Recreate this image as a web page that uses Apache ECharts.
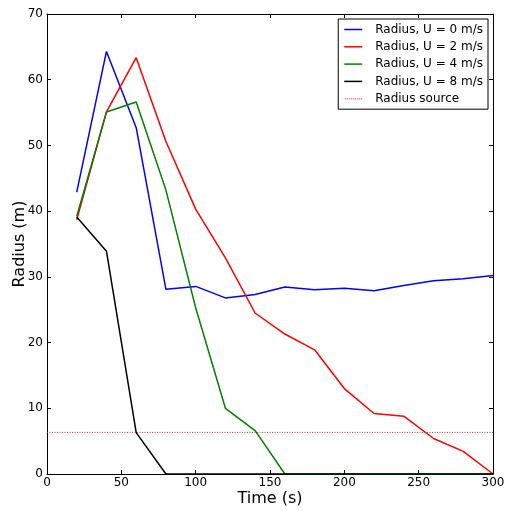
<!DOCTYPE html>
<html>
<head>
<meta charset="utf-8">
<script src="https://cdn.jsdelivr.net/npm/echarts@6/dist/echarts.min.js"></script>
<style>html,body{margin:0;padding:0;background:#fff}#c{width:506px;height:511px}</style>
</head>
<body>
<div id="c"></div>
<script>
const times = [20, 40, 60, 80, 100, 120, 140, 160, 180, 200, 220, 240, 260, 280, 300];
const radiusU0 = [42.9, 64.3, 52.7, 28.1, 28.55, 26.8, 27.3, 28.45, 28.05, 28.25, 27.9, 28.7, 29.4, 29.7, 30.2];
const radiusU2 = [38.7, 55.1, 63.35, 50.6, 40.3, 32.9, 24.5, 21.3, 18.9, 13.0, 9.2, 8.8, 5.4, 3.45, 0];
const radiusU4 = [39.2, 55.1, 56.6, 43.2, 25.3, 10.0, 6.6, 0, 0, 0, 0, 0, 0, 0, 0];
const radiusU8 = [39.1, 33.9, 6.3, 0, 0, 0, 0, 0, 0, 0, 0, 0, 0, 0, 0];
const sourceTimes = [0, 300];
const sourceRadius = [6.33, 6.33];
const seriesNames = ['Radius, U = 0 m/s', 'Radius, U = 2 m/s', 'Radius, U = 4 m/s', 'Radius, U = 8 m/s', 'Radius source'];
const xTicks = [0, 50, 100, 150, 200, 250, 300];
const yTicks = [0, 10, 20, 30, 40, 50, 60, 70];

const pairs = (xs, ys) => xs.map((x, i) => [x, ys[i]]);
const FONT = 'DejaVu Sans';
const solidIcon = 'path://M0,0H18V1.5H0Z';
let dotPath = '';
for (let i = 0; i < 9; i++) dotPath += 'M' + (i * 2) + ',0h1v1.5h-1Z';
const dotIcon = 'path://' + dotPath;

const chart = echarts.init(document.getElementById('c'), null, {renderer: 'canvas'});
const lineSeries = (name, data, color) => ({
  name, type: 'line', data, symbol: 'none', silent: true, animation: false,
  lineStyle: {color, width: 1.5}, itemStyle: {color}
});
const axisBase = {
  type: 'value', splitLine: {show: false},
  axisLine: {show: true, onZero: false, lineStyle: {color: '#000', width: 1}},
  axisTick: {show: true, inside: true, length: 4, lineStyle: {color: '#000'}},
};
chart.setOption({
  animation: false,
  backgroundColor: '#fff',
  grid: {left: 47, right: 13, top: 14, bottom: 37, containLabel: false, outerBoundsMode: 'none'},
  xAxis: [
    Object.assign({}, axisBase, {
      min: xTicks[0], max: xTicks[xTicks.length - 1], interval: 50, position: 'bottom',
      name: 'Time (s)', nameLocation: 'middle', nameGap: 17, nameMoveOverlap: false,
      nameTextStyle: {fontFamily: FONT, fontSize: 16, color: '#000', verticalAlign: 'top'},
      axisLabel: {fontFamily: FONT, fontSize: 12, color: '#000', margin: 3}
    }),
    Object.assign({}, axisBase, {
      min: xTicks[0], max: xTicks[xTicks.length - 1], interval: 50, position: 'top',
      axisLabel: {show: false}
    })
  ],
  yAxis: [
    Object.assign({}, axisBase, {
      min: yTicks[0], max: yTicks[yTicks.length - 1], interval: 10, position: 'left',
      name: 'Radius (m)', nameLocation: 'middle', nameGap: 19, nameMoveOverlap: false,
      nameTextStyle: {fontFamily: FONT, fontSize: 16, color: '#000'},
      axisLabel: {fontFamily: FONT, fontSize: 12, color: '#000', margin: 4}
    }),
    Object.assign({}, axisBase, {
      min: yTicks[0], max: yTicks[yTicks.length - 1], interval: 10, position: 'right',
      axisLabel: {show: false}
    })
  ],
  legend: {
    right: 18, top: 19, orient: 'vertical', align: 'left',
    backgroundColor: '#fff', borderColor: '#000', borderWidth: 1, borderRadius: 0,
    padding: [3.5, 5, 3.5, 6], itemGap: 3.3, itemWidth: 18, itemHeight: 1.5,
    textStyle: {fontFamily: FONT, fontSize: 12, color: '#000', lineHeight: 14, padding: [0, 0, 0, 8]},
    selectedMode: false,
    data: [
      {name: seriesNames[0], icon: solidIcon, itemStyle: {color: '#0000ff'}},
      {name: seriesNames[1], icon: solidIcon, itemStyle: {color: '#ff0000'}},
      {name: seriesNames[2], icon: solidIcon, itemStyle: {color: '#008000'}},
      {name: seriesNames[3], icon: solidIcon, itemStyle: {color: '#000000'}},
      {name: seriesNames[4], icon: dotIcon, itemStyle: {color: '#ff6060'}}
    ]
  },
  series: [
    lineSeries(seriesNames[0], pairs(times, radiusU0), '#0000ff'),
    lineSeries(seriesNames[1], pairs(times, radiusU2), '#ff0000'),
    lineSeries(seriesNames[2], pairs(times, radiusU4), '#008000'),
    lineSeries(seriesNames[3], pairs(times, radiusU8), '#000000'),
    {
      name: seriesNames[4], type: 'line', data: pairs(sourceTimes, sourceRadius), symbol: 'none',
      silent: true, lineStyle: {color: '#d03030', width: 1, type: [1, 1.5]}, itemStyle: {color: '#ff6060'}
    }
  ]
});
</script>
</body>
</html>
